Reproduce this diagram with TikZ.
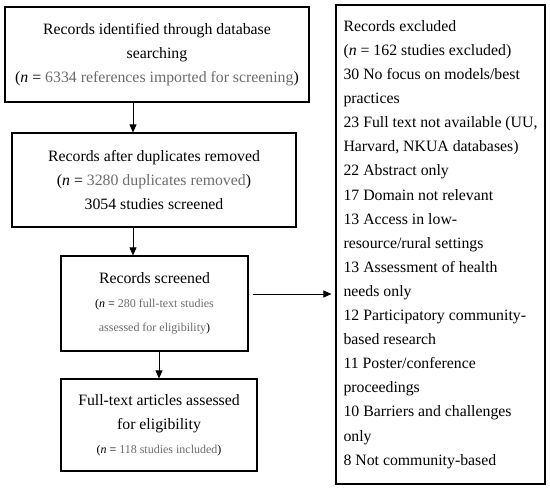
\documentclass[tikz,border=0pt]{standalone}
\usepackage{fontspec}
\setmainfont{Liberation Serif}
\usetikzlibrary{arrows.meta}

\definecolor{ngray}{gray}{0.42}
\tikzstyle{box}=[black, draw, line width=1.2pt, align=center, inner sep=0pt, font=\fontsize{15.8}{24.1}\selectfont]
\tikzstyle{arr}=[black, line width=0.9pt, draw, -{Triangle[length=8pt,width=7pt]}]
\newcommand{\nsmall}{\fontsize{12}{23}\selectfont}

\begin{document}
\begin{tikzpicture}[x=1pt, y=-1pt]
  \useasboundingbox (0,0) rectangle (550,490);

  \node[box, minimum width=304pt, minimum height=95pt] (ident) at (157,54.5)
    {Records identified through database\\ searching\\
     (\textit{n} = {\color{ngray}6334 references imported for screening})};
  \node[box, minimum width=284pt, minimum height=94pt] (dupl) at (154,180)
    {Records after duplicates removed\\
     (\textit{n} = {\color{ngray}3280 duplicates removed})\\
     3054 studies screened};
  \node[box, minimum width=187pt, minimum height=95pt] (scr) at (154.5,303.5)
    {Records screened\\
     {\nsmall(\textit{n} = {\color{ngray}280 full-text studies}}\\
     {\nsmall{\color{ngray}assessed for eligibility})}};
  \node[box, minimum width=196pt, minimum height=92pt] (full) at (159,425)
    {Full-text articles assessed\\ for eligibility\\
     {\nsmall(\textit{n} = {\color{ngray}118 studies included})}};
  \node[box, align=left, minimum width=209pt, minimum height=479pt] (excl) at (440.5,244.5)
    {Records excluded\\
     (\textit{n} = 162 studies excluded)\\
     30 No focus on models/best\\ practices\\
     23 Full text not available (UU,\\ Harvard, NKUA databases)\\
     22 Abstract only\\
     17 Domain not relevant\\
     13 Access in low-\\ resource/rural settings\\
     13 Assessment of health\\ needs only\\
     12 Participatory community-\\ based research\\
     11 Poster/conference\\ proceedings\\
     10 Barriers and challenges\\ only\\
     8 Not community-based};

  \draw [arr] ([xshift=-24pt]ident.south) -- ([xshift=-24pt]ident.south |- dupl.north);
  \draw [arr] ([xshift=-21pt]dupl.south) -- ([xshift=-21pt]dupl.south |- scr.north);
  \draw [arr] (full.north |- scr.south) -- (full.north);
  \coordinate (out) at ([xshift=4pt, yshift=9.5pt]scr.east);
  \draw [arr, shorten >=4pt] (out) -- (out -| excl.west);
\end{tikzpicture}
\end{document}
